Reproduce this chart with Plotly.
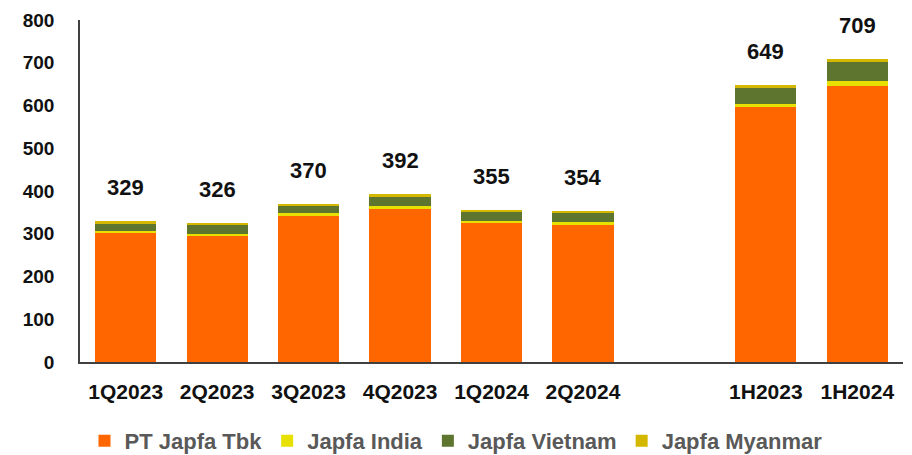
import plotly.graph_objects as go

categories = ["1Q2023", "2Q2023", "3Q2023", "4Q2023", "1Q2024", "2Q2024", " ", "1H2023", "1H2024"]
pt_japfa = [301, 294, 342, 358, 324, 321, None, 596, 646]
japfa_india = [6, 6, 6, 7, 6, 6, None, 7, 12]
japfa_vietnam = [18, 22, 17, 22, 22, 23, None, 39, 44]
japfa_myanmar = [4, 4, 5, 5, 3, 4, None, 7, 7]
totals = [329, 326, 370, 392, 355, 354, None, 649, 709]

series = [
    ("PT Japfa Tbk", pt_japfa, "#FF6600"),
    ("Japfa India", japfa_india, "#E8E000"),
    ("Japfa Vietnam", japfa_vietnam, "#5E7530"),
    ("Japfa Myanmar", japfa_myanmar, "#D4B800"),
]

FONT = "Liberation Sans, Arial"

fig = go.Figure()
for name, vals, color in series:
    fig.add_trace(go.Bar(
        x=categories, y=vals, name=f"<b>{name}</b>",
        marker=dict(color=color, line=dict(width=0)),
    ))

for c, t in zip(categories, totals):
    if t is None:
        continue
    fig.add_annotation(
        x=c, y=t, text=f"<b>{t}</b>", showarrow=False,
        yanchor="bottom", yshift=19,
        font=dict(family=FONT, size=22, color="#111111"),
    )

fig.update_layout(
    barmode="stack",
    bargap=0.33,
    width=912, height=455,
    margin=dict(l=80, r=9, t=20, b=93, autoexpand=False),
    plot_bgcolor="white", paper_bgcolor="white",
    font=dict(family=FONT, color="#111111"),
    showlegend=True,
    legend=dict(
        orientation="h", x=0.5, xanchor="center", xref="container",
        y=0.031, yanchor="middle", yref="container",
        font=dict(size=22, color="#595959", family=FONT),
        traceorder="normal", itemwidth=30, itemsizing="constant",
    ),
)
fig.update_xaxes(
    type="category", categoryorder="array", categoryarray=categories,
    showline=True, linecolor="#404040", linewidth=1.5,
    showgrid=False, ticks="", automargin=False,
    tickfont=dict(size=21, color="#111111", family=FONT),
    tickprefix="<b>", ticksuffix="</b>", ticklabelstandoff=10,
)
fig.update_yaxes(
    range=[0, 800], dtick=100, automargin=False,
    showline=True, linecolor="#404040", linewidth=1.5,
    showgrid=False, zeroline=False, ticks="",
    tickfont=dict(size=19, color="#111111", family=FONT),
    tickprefix="<b>", ticksuffix="</b>", ticklabelstandoff=20,
)

fig.write_html("out.html")
